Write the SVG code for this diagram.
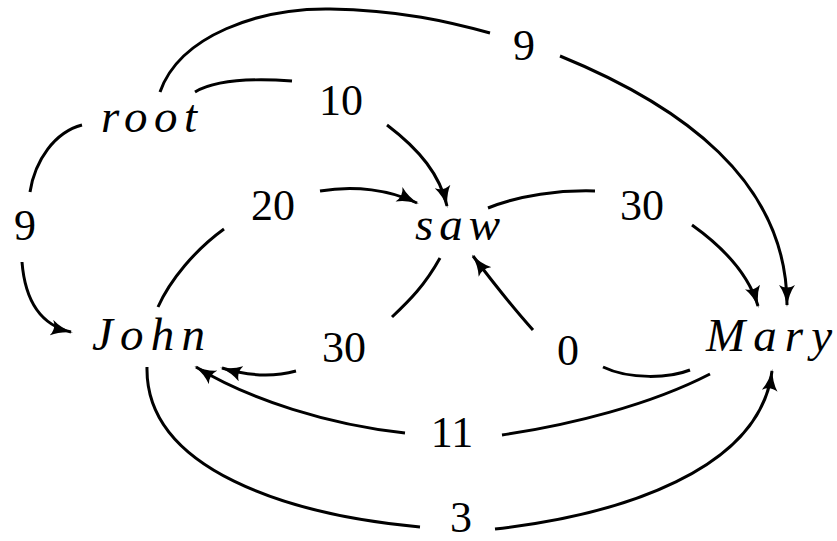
<svg xmlns="http://www.w3.org/2000/svg" width="837" height="541" viewBox="0 0 837 541">
<style>
.node{font-family:"Liberation Serif",serif;font-style:italic;font-size:47px;fill:#000}
.lbl{font-family:"Liberation Serif",serif;font-size:44px;fill:#000;text-anchor:middle}
.e{fill:none;stroke:#000;stroke-width:3;stroke-linecap:butt}
</style>
<defs>
<marker id="arr" markerUnits="userSpaceOnUse" viewBox="0 0 22 16" refX="20" refY="8" markerWidth="22" markerHeight="16" orient="auto">
<path d="M0,0 Q9,6.3 22,8 Q9,9.7 0,16 Q5,8 0,0 Z" fill="#000"/>
</marker>
</defs>
<g id="connectors">
<path class="e" d="M160,92 C180,35 260,8 330,9 C400,10 450,22 490,33"/>
<path class="e" marker-end="url(#arr)" d="M560,56 C680,105 787,180 787,305"/>
<path class="e" d="M195,92 C215,80 250,78 292,81"/>
<path class="e" marker-end="url(#arr)" d="M387,125 C420,150 440,175 447,206"/>
<path class="e" d="M82,125 C55,132 35,160 30,192"/>
<path class="e" marker-end="url(#arr)" d="M22,262 C25,300 40,325 71,332"/>
<path class="e" d="M158,307 C170,280 195,250 224,229"/>
<path class="e" marker-end="url(#arr)" d="M320,191 C355,185 390,190 417,203"/>
<path class="e" d="M488,208 C520,195 560,190 595,191"/>
<path class="e" marker-end="url(#arr)" d="M692,225 C720,245 748,272 758,306"/>
<path class="e" d="M440,258 C425,285 410,300 392,317"/>
<path class="e" marker-end="url(#arr)" d="M296,371 C270,378 245,375 222,368"/>
<path class="e" d="M690,370 C670,378 630,380 603,367"/>
<path class="e" marker-end="url(#arr)" d="M533,330 C515,310 495,285 473,256"/>
<path class="e" d="M710,374 C650,405 570,425 502,435"/>
<path class="e" marker-end="url(#arr)" d="M405,433 C330,425 250,400 196,367"/>
<path class="e" d="M147,367 C145,470 290,515 420,527"/>
<path class="e" marker-end="url(#arr)" d="M495,529 C620,515 760,470 772,371"/>
</g>
<g id="labels">
<text class="lbl" x="524" y="60">9</text>
<text class="lbl" x="341" y="115">10</text>
<text class="lbl" x="25" y="240">9</text>
<text class="lbl" x="273" y="220">20</text>
<text class="lbl" x="642" y="220">30</text>
<text class="lbl" x="344" y="362">30</text>
<text class="lbl" x="568" y="365">0</text>
<text class="lbl" x="452" y="447">11</text>
<text class="lbl" x="461" y="532">3</text>
</g>
<g id="root"><text class="node" x="101" y="132" textLength="96" lengthAdjust="spacing">root</text></g>
<g id="saw"><text class="node" x="415" y="240" textLength="85" lengthAdjust="spacing">saw</text></g>
<g id="John"><text class="node" x="92" y="350" textLength="113" lengthAdjust="spacing">John</text></g>
<g id="Mary"><text class="node" x="706" y="351" textLength="126" lengthAdjust="spacing">Mary</text></g>
</svg>
